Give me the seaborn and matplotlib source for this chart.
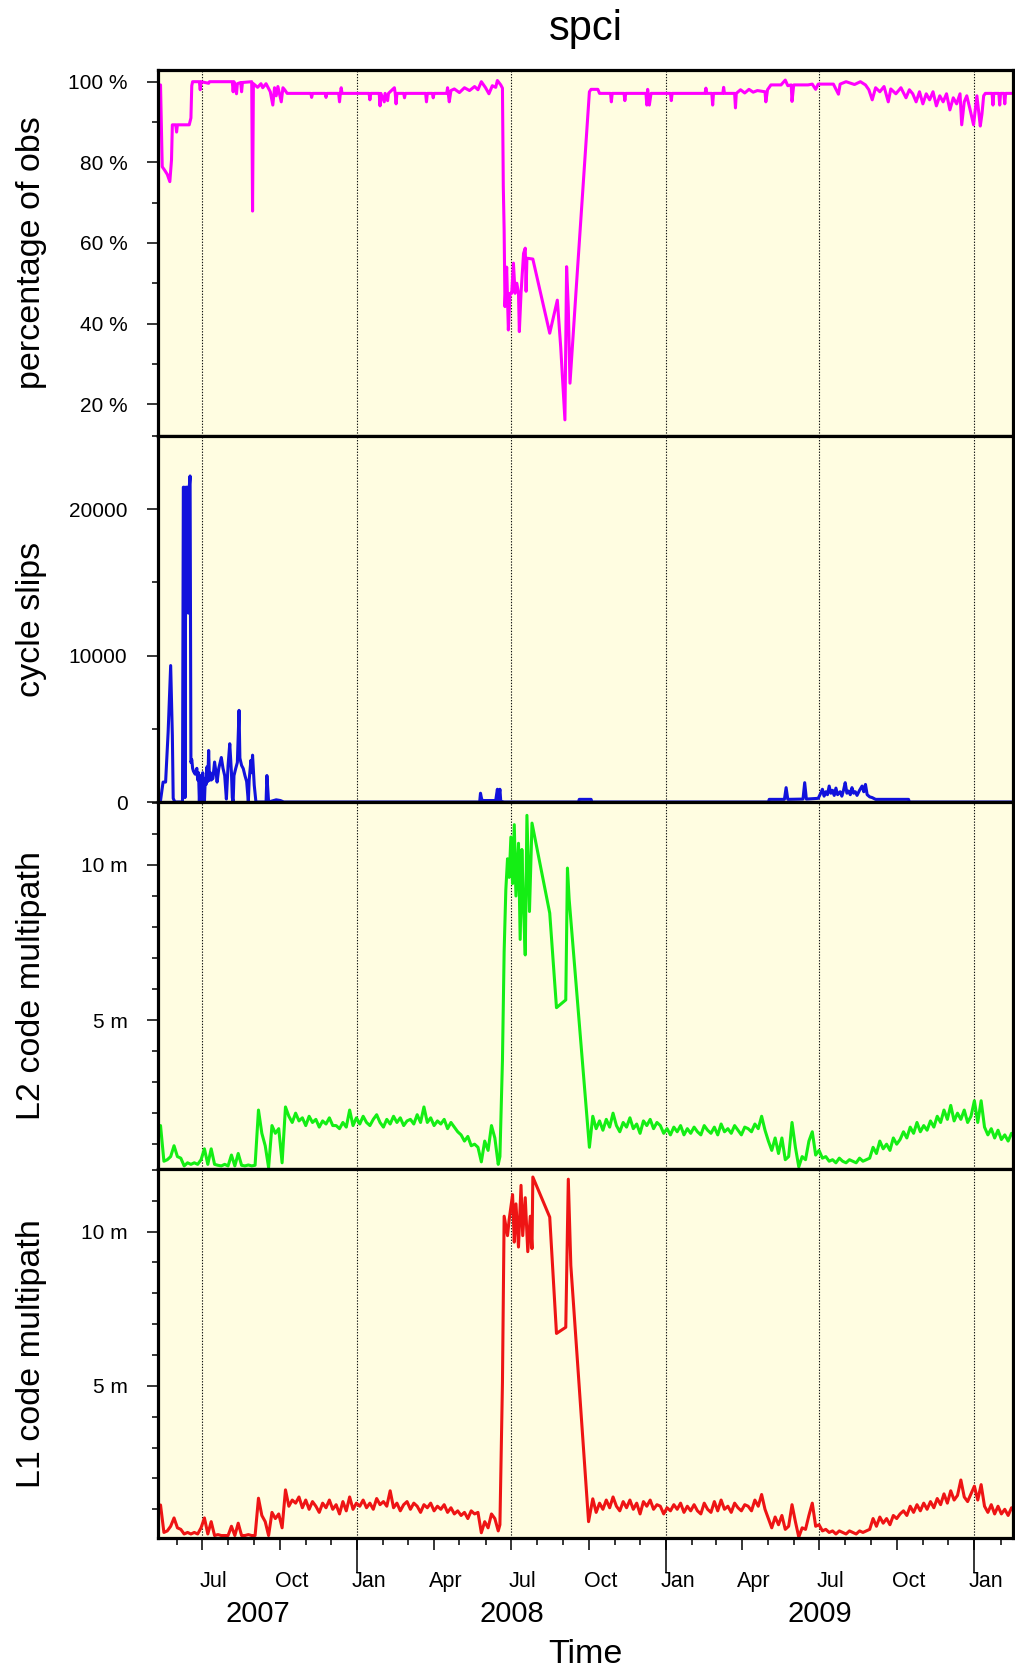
import numpy as np
import pandas as pd
import matplotlib
matplotlib.use("Agg")
import matplotlib.pyplot as plt
import matplotlib.dates as mdates
from matplotlib.ticker import FixedLocator, FuncFormatter
import seaborn as sns

sns.set_style("ticks")
plt.rcParams["font.family"] = ["Liberation Sans", "DejaVu Sans"]
plt.rcParams.update({"text.color": "black", "axes.labelcolor": "black",
                     "xtick.color": "black", "ytick.color": "black"})

# ---------------------------------------------------------------- data
STATION = "spci"
DAY0 = pd.Timestamp("2007-05-10")          # day offsets below count from here
X_START = pd.Timestamp("2007-05-10")
X_END = pd.Timestamp("2010-02-15 18:00")

MONTH_LABELS = ["Jul", "Oct", "Jan", "Apr", "Jul", "Oct",
                "Jan", "Apr", "Jul", "Oct", "Jan"]
YEAR_LABELS = ["2007", "2008", "2009"]

# percentage of observations: (day, %)
pct_points = [
    (3, 99.2), (5, 78.9), (8, 78.0), (11, 77.0), (14, 75.2), (16, 80.6),
    (17, 89.3), (21, 89.3), (22, 87.5), (23, 89.3), (37, 89.3), (39, 91.0),
    (40, 99.0), (41, 100.0), (49, 100.0), (50, 98.0), (51, 100.0),
    (60, 99.6), (61, 100.0), (88, 100.0), (89, 97.5), (90, 100.0),
    (93, 97.0), (94, 99.5), (98, 99.8), (99, 97.5), (100, 99.8),
    (111, 100.0), (112, 67.9), (113, 99.5), (118, 98.6), (122, 99.5),
    (124, 98.5), (128, 99.5), (133, 97.5), (136, 94.2), (138, 98.5),
    (140, 96.5), (142, 98.8), (146, 95.0), (148, 98.5), (150, 98.0),
    (153, 97.1), (181, 97.1), (182, 96.1), (183, 97.1), (198, 97.1),
    (199, 96.1), (200, 97.1), (214, 97.1), (215, 95.0), (216, 97.1),
    (217, 98.5), (218, 97.1), (250, 97.1), (251, 95.5), (252, 97.1),
    (262, 97.1), (263, 94.0), (264, 97.1), (268, 95.0), (269, 97.1),
    (272, 95.3), (273, 97.1), (280, 98.5), (281, 97.1), (282, 94.5),
    (283, 97.1), (291, 97.1), (292, 96.0), (293, 97.1), (317, 97.1),
    (318, 95.0), (319, 97.1), (325, 97.1), (326, 96.0), (327, 97.1),
    (342, 97.1), (343, 98.5), (345, 95.0), (347, 97.8), (351, 98.2),
    (357, 97.3), (363, 98.5), (369, 97.8), (375, 98.8), (379, 98.0),
    (383, 100.0), (388, 98.5), (392, 97.0), (396, 99.0), (400, 98.6),
    (402, 100.3), (406, 99.2), (408, 98.4), (409, 74.0), (410, 63.2),
    (411, 44.2), (413, 54.0), (415, 38.4), (417, 47.5), (419, 47.5),
    (421, 55.0), (423, 47.5), (425, 50.0), (427, 47.5), (428, 38.0),
    (430, 47.5), (433, 57.4), (435, 58.7), (436, 48.0), (437, 56.2),
    (444, 56.0), (464, 37.6), (473, 45.8), (477, 34.2), (482, 16.1),
    (484, 54.1), (486, 44.0), (488, 25.2), (495, 47.5), (511, 97.5),
    (513, 98.1), (521, 98.1), (523, 97.1), (536, 97.1), (537, 95.0),
    (538, 97.1), (552, 97.1), (553, 95.3), (554, 97.1), (578, 97.1),
    (579, 94.2), (580, 98.1), (582, 94.2), (584, 97.1), (607, 97.1),
    (608, 95.3), (609, 97.1), (648, 97.1), (649, 98.4), (650, 97.1),
    (656, 97.1), (657, 94.2), (658, 97.1), (669, 97.1), (670, 98.6),
    (671, 97.1), (683, 97.1), (684, 93.5), (685, 97.1), (690, 98.0),
    (695, 97.2), (700, 98.1), (705, 97.4), (710, 97.8), (719, 97.5),
    (720, 95.0), (722, 98.0), (726, 99.2), (738, 99.2), (743, 100.4),
    (746, 99.0), (750, 99.2), (751, 95.1), (753, 99.2), (770, 99.2),
    (775, 99.4), (779, 98.1), (782, 99.4), (800, 99.4), (806, 96.9),
    (808, 99.4), (815, 100.0), (825, 99.3), (832, 100.0), (838, 99.2),
    (842, 98.0), (846, 95.5), (850, 98.5), (855, 97.5), (860, 98.8),
    (865, 95.0), (868, 98.2), (874, 97.0), (880, 98.5), (886, 96.0),
    (890, 98.0), (894, 97.0), (898, 95.0), (902, 97.5), (906, 94.5),
    (910, 97.0), (914, 95.5), (918, 97.5), (922, 94.0), (926, 96.5),
    (930, 95.0), (934, 97.0), (938, 93.0), (942, 96.0), (946, 94.5),
    (950, 97.0), (952, 89.3), (955, 95.0), (958, 96.5), (962, 93.0),
    (966, 89.3), (970, 96.5), (974, 89.0), (976, 92.0), (978, 96.5),
    (980, 97.1), (988, 97.1), (989, 94.2), (990, 97.1), (996, 97.1),
    (997, 94.2), (998, 97.1), (1002, 97.1), (1003, 94.5), (1004, 97.1),
    (1011, 97.1),
]

# cycle slips per day: (day, count)
slip_points = [
    (3, 100), (6, 1360), (9, 1360), (12, 4770), (15, 9320), (17, 4550),
    (18, 250), (20, 0), (29, 0), (30, 21500), (31, 21500), (32, 300),
    (33, 21500), (34, 21500), (35, 21500), (36, 12900), (37, 21500),
    (38, 22270), (39, 2700), (40, 2900), (41, 2300), (42, 2100),
    (44, 1900), (46, 2300), (47, 1500), (48, 2000), (49, 0), (50, 1800),
    (51, 0), (52, 1600), (53, 2000), (54, 1400), (55, 0), (56, 1600),
    (57, 1200), (58, 2400), (59, 1400), (60, 3520), (61, 1500),
    (62, 2000), (63, 1500), (65, 1600), (67, 2730), (69, 1900),
    (70, 1360), (72, 2300), (75, 3040), (77, 2300), (79, 1800),
    (81, 200), (83, 2500), (85, 3980), (87, 2000), (88, 300), (89, 0),
    (90, 1800), (92, 2280), (94, 2700), (96, 6260), (97, 3000),
    (99, 2500), (101, 2280), (103, 1800), (105, 1400), (107, 0),
    (108, 1500), (110, 2840), (111, 2000), (112, 3200), (114, 1150),
    (116, 0), (128, 0), (129, 1810), (131, 0), (140, 150), (145, 100),
    (149, 0), (381, 0), (382, 600), (383, 300), (384, 100), (400, 100),
    (402, 870), (403, 100), (405, 870), (406, 50), (410, 0), (498, 0),
    (499, 180), (513, 180), (514, 0), (723, 0), (724, 180), (742, 180),
    (744, 980), (746, 180), (764, 200), (766, 1320), (768, 200),
    (782, 250), (785, 600), (787, 870), (789, 400), (791, 700),
    (793, 500), (795, 1090), (797, 600), (799, 800), (801, 450),
    (803, 950), (805, 500), (808, 700), (810, 400), (812, 800),
    (814, 1320), (816, 600), (818, 750), (820, 500), (822, 980),
    (824, 600), (826, 700), (828, 450), (831, 800), (834, 1090),
    (836, 700), (838, 1200), (840, 500), (843, 350), (846, 300),
    (850, 180), (889, 180), (890, 0), (1011, 0),
]

# code multipath (m): 4-day samples before and after the 2008 event,
# individual days during it
MP_STEP = 4
MP_EARLY_START = 3
MP_LATE_START = 515

l2_early = [
    1.6, 0.45, 0.5, 0.6, 0.95, 0.6, 0.55, 0.3, 0.4, 0.35,
    0.4, 0.35, 0.5, 0.85, 0.35, 0.85, 0.35, 0.32, 0.3, 0.35,
    0.3, 0.65, 0.3, 0.7, 0.32, 0.3, 0.33, 0.3, 0.32, 2.1,
    1.35, 0.95, 0.25, 1.6, 1.35, 1.5, 0.4, 2.2, 1.9, 1.7,
    2.0, 1.75, 1.85, 1.6, 1.9, 1.7, 1.8, 1.55, 1.75, 1.65,
    1.85, 1.6, 1.6, 1.5, 1.7, 1.55, 2.1, 1.6, 1.85, 1.65,
    1.9, 1.7, 1.6, 1.8, 1.95, 1.7, 1.55, 1.8, 1.65, 1.9,
    1.7, 1.85, 1.6, 1.75, 1.8, 1.65, 1.95, 1.7, 2.2, 1.7,
    1.85, 1.6, 1.75, 1.65, 1.8, 1.5, 1.7, 1.55, 1.4, 1.3,
    1.1, 1.25, 0.95, 1.0, 0.9, 0.43, 1.1, 0.8, 1.6, 1.2,
    0.35,
]
l2_event = [
    (405, 0.6), (408, 3.7), (410, 7.2), (412, 9.2), (414, 10.2),
    (416, 9.6), (418, 10.9), (420, 9.4), (422, 11.3), (424, 9.0),
    (427, 10.7), (429, 7.6), (431, 10.5), (433, 8.6), (435, 7.1),
    (437, 11.6), (440, 8.5), (443, 11.35), (464, 8.45), (472, 5.4),
    (483, 5.65), (485, 9.9), (487, 8.9), (511, 0.9),
]
l2_late = [
    1.9, 1.5, 1.75, 1.45, 1.8, 1.55, 2.0, 1.6, 1.4, 1.7,
    1.55, 1.85, 1.5, 1.65, 1.35, 1.75, 1.6, 1.8, 1.5, 1.7,
    1.6, 1.35, 1.5, 1.3, 1.55, 1.4, 1.6, 1.3, 1.5, 1.35,
    1.55, 1.4, 1.3, 1.6, 1.45, 1.35, 1.55, 1.3, 1.65, 1.4,
    1.5, 1.35, 1.6, 1.45, 1.3, 1.55, 1.5, 1.4, 1.65, 1.5,
    1.9, 1.45, 1.1, 0.8, 1.2, 0.7, 1.2, 0.5, 0.6, 1.7,
    0.9, 0.27, 0.6, 0.5, 1.1, 1.4, 0.65, 0.8, 0.55, 0.6,
    0.45, 0.5, 0.4, 0.55, 0.45, 0.4, 0.5, 0.45, 0.4, 0.55,
    0.45, 0.5, 0.55, 0.9, 0.7, 1.1, 0.85, 1.0, 0.8, 1.2,
    1.0, 1.15, 1.4, 1.2, 1.55, 1.35, 1.7, 1.4, 1.6, 1.45,
    1.75, 1.55, 1.9, 1.7, 2.1, 1.8, 2.25, 1.75, 2.0, 1.8,
    2.1, 1.7, 1.9, 2.4, 1.7, 2.4, 1.55, 1.3, 1.5, 1.2,
    1.45, 1.15, 1.3, 1.1, 1.35,
]

l1_early = [
    1.14, 0.25, 0.3, 0.45, 0.72, 0.4, 0.35, 0.2, 0.25, 0.2,
    0.25, 0.2, 0.4, 0.72, 0.2, 0.6, 0.15, 0.18, 0.15, 0.15,
    0.15, 0.45, 0.15, 0.55, 0.15, 0.15, 0.18, 0.15, 0.15, 1.36,
    0.8, 0.6, 0.15, 0.9, 0.7, 0.85, 0.4, 1.63, 1.1, 1.3,
    1.2, 1.4, 1.05, 1.3, 1.0, 1.25, 1.1, 0.9, 1.2, 1.05,
    1.3, 1.0, 1.15, 0.85, 1.25, 0.95, 1.4, 1.0, 1.2, 1.1,
    1.3, 1.05, 1.2, 1.0, 1.35, 1.15, 1.25, 1.1, 1.6, 1.05,
    1.2, 0.95, 1.15, 1.25, 1.0, 1.2, 1.1, 0.9, 1.15, 1.05,
    1.2, 0.95, 1.1, 1.0, 1.15, 0.9, 1.05, 0.85, 0.95, 0.8,
    0.9, 0.7, 0.95, 0.85, 0.9, 0.24, 0.6, 0.4, 0.85, 0.7,
    0.3,
]
l1_event = [
    (405, 0.5), (408, 5.1), (410, 10.5), (414, 9.87), (416, 10.4),
    (420, 11.2), (422, 9.66), (424, 10.9), (427, 9.5), (430, 11.5),
    (432, 9.87), (435, 11.1), (438, 9.35), (441, 10.5), (443, 9.45),
    (444, 11.77), (464, 10.47), (472, 6.7), (483, 6.9), (486, 11.7),
    (489, 8.9), (510, 0.6),
]
l1_late = [
    1.34, 0.9, 1.2, 1.0, 1.3, 1.05, 1.4, 1.1, 0.95, 1.25,
    1.05, 1.3, 1.0, 1.2, 0.85, 1.25, 1.1, 1.3, 1.0, 1.15,
    1.1, 0.85, 1.05, 0.95, 1.15, 1.0, 1.2, 0.9, 1.1, 0.95,
    1.15, 0.95, 0.85, 1.2, 1.0, 0.9, 1.25, 0.95, 1.3, 1.0,
    1.1, 0.9, 1.2, 1.05, 0.95, 1.15, 1.1, 0.95, 1.3, 1.1,
    1.48, 1.0, 0.7, 0.4, 0.75, 0.5, 0.8, 0.35, 0.45, 1.15,
    0.6, 0.1, 0.4, 0.35, 0.8, 1.2, 0.45, 0.5, 0.3, 0.35,
    0.25, 0.3, 0.2, 0.3, 0.25, 0.2, 0.3, 0.25, 0.2, 0.3,
    0.25, 0.3, 0.35, 0.7, 0.45, 0.75, 0.55, 0.7, 0.5, 0.8,
    0.7, 0.85, 0.95, 0.8, 1.1, 0.9, 1.15, 0.95, 1.2, 1.0,
    1.25, 1.05, 1.35, 1.15, 1.5, 1.2, 1.6, 1.3, 1.45, 1.95,
    1.4, 1.25, 1.5, 1.75, 1.3, 1.8, 1.1, 0.9, 1.15, 0.85,
    1.1, 0.85, 1.0, 0.8, 1.05,
]


# ---------------------------------------------------------------- helpers
def frame_from_points(points):
    days, vals = zip(*points)
    return pd.DataFrame({"time": DAY0 + pd.to_timedelta(np.array(days), unit="D"),
                         "value": np.array(vals, dtype=float)})


def multipath_frame(early, event, late):
    d_early = MP_EARLY_START + MP_STEP * np.arange(len(early))
    d_late = MP_LATE_START + MP_STEP * np.arange(len(late))
    ev_days, ev_vals = zip(*event)
    days = np.concatenate([d_early, np.array(ev_days), d_late])
    vals = np.concatenate([early, ev_vals, late]).astype(float)
    return pd.DataFrame({"time": DAY0 + pd.to_timedelta(days, unit="D"),
                         "value": vals})


panels = [
    dict(df=frame_from_points(pct_points), color="#FF00FF",
         label="percentage of obs", ylim=(12.1, 102.9),
         major=[20, 40, 60, 80, 100], minor=[30, 50, 70, 90],
         fmt=lambda v, p: f"{v:.0f} %"),
    dict(df=frame_from_points(slip_points), color="#1212DC",
         label="cycle slips", ylim=(0, 25000),
         major=[0, 10000, 20000], minor=[5000, 15000, 25000],
         fmt=lambda v, p: f"{v:.0f}"),
    dict(df=multipath_frame(l2_early, l2_event, l2_late), color="#14EE14",
         label="L2 code multipath", ylim=(0.2, 12.03),
         major=[5, 10], minor=[1, 2, 3, 4, 6, 7, 8, 9, 11, 12],
         fmt=lambda v, p: f"{v:.0f} m"),
    dict(df=multipath_frame(l1_early, l1_event, l1_late), color="#EE1414",
         label="L1 code multipath", ylim=(0.07, 12.03),
         major=[5, 10], minor=[1, 2, 3, 4, 6, 7, 8, 9, 11, 12],
         fmt=lambda v, p: f"{v:.0f} m"),
]

# ---------------------------------------------------------------- figure
W, H = 1015, 1673
fig = plt.figure(figsize=(W / 100, H / 100), dpi=100)
left_px, right_px = 158, 1013
edges_px = [70, 436, 802, 1169, 1538]
bg = "#FFFDE1"

grid_dates = [pd.Timestamp(f"{y}-{m:02d}-01") for y in (2007, 2008, 2009, 2010)
              for m in (1, 7)]
grid_dates = [d for d in grid_dates if X_START < d < X_END]

axes = []
for i, spec in enumerate(panels):
    top, bot = edges_px[i], edges_px[i + 1]
    rect = [left_px / W, 1 - bot / H, (right_px - left_px) / W, (bot - top) / H]
    ax = fig.add_axes(rect, sharex=axes[0] if axes else None)
    axes.append(ax)
    ax.set_facecolor(bg)

    sns.lineplot(data=spec["df"], x="time", y="value", ax=ax,
                 color=spec["color"], linewidth=2.2, errorbar=None,
                 estimator=None)

    for d in grid_dates:
        ax.axvline(d, color="#111111", linewidth=0.8,
                   linestyle=(0, (1.2, 1.4)), zorder=1)

    ax.set_xlim(X_START, X_END)
    ax.set_ylim(*spec["ylim"])
    ax.yaxis.set_major_locator(FixedLocator(spec["major"]))
    ax.yaxis.set_minor_locator(FixedLocator(spec["minor"]))
    ax.yaxis.set_major_formatter(FuncFormatter(spec["fmt"]))
    ax.tick_params(axis="y", which="major", length=8, width=1.1,
                   pad=14, labelsize=15, direction="out")
    ax.tick_params(axis="y", which="minor", length=4.3, width=1.1,
                   direction="out")
    ax.tick_params(axis="y", right=False, which="both")

    ax.set_ylabel(spec["label"], fontsize=24.5)
    ax.yaxis.set_label_coords(-0.130, 0.5)
    ax.set_xlabel("")

    for s in ax.spines.values():
        s.set_linewidth(2.3)
        s.set_color("black")
        s.set_zorder(5)

    if i < 3:
        ax.tick_params(axis="x", which="both", bottom=False, top=False,
                       labelbottom=False)

# bottom time axis: monthly minor, quarterly major, taller January ticks
axb = axes[-1]
axb.xaxis.set_major_locator(mdates.MonthLocator(bymonth=[1, 4, 7, 10]))
axb.xaxis.set_minor_locator(mdates.MonthLocator())
axb.tick_params(axis="x", which="major", length=8.6, width=1.1,
                direction="out", labelbottom=False, top=False)
axb.tick_params(axis="x", which="minor", length=5, width=1.1,
                direction="out", top=False)

jan_dates = [pd.Timestamp(f"{y}-01-01") for y in (2008, 2009, 2010)]
jan_ax = axb.secondary_xaxis("bottom")
jan_ax.set_xticks(mdates.date2num(jan_dates))
jan_ax.tick_params(length=25, width=1.1, labelbottom=False)
jan_ax.spines["bottom"].set_visible(False)

quarter_starts = pd.date_range("2007-07-01", "2010-01-01", freq="QS-JAN")
label_pos = mdates.date2num(quarter_starts + pd.Timedelta(days=14))
month_ax = axb.secondary_xaxis("bottom")
month_ax.set_xticks(label_pos, labels=MONTH_LABELS)
month_ax.tick_params(length=0, pad=24, labelsize=15.5)
month_ax.spines["bottom"].set_visible(False)

year_bounds = [(max(X_START, pd.Timestamp(f"{y}-01-01")),
                min(X_END, pd.Timestamp(f"{int(y) + 1}-01-01"))) for y in YEAR_LABELS]
year_pos = [mdates.date2num(a + (b - a) / 2) for a, b in year_bounds]
year_ax = axb.secondary_xaxis("bottom")
year_ax.set_xticks(year_pos, labels=YEAR_LABELS)
year_ax.tick_params(length=0, pad=45, labelsize=21)
year_ax.spines["bottom"].set_visible(False)

xc = (left_px + right_px) / 2 / W
fig.text(xc, 1 - 40 / H, STATION, ha="center", va="baseline", fontsize=30)
fig.text(xc, 1 - 1663 / H, "Time", ha="center", va="baseline", fontsize=24.5)

fig.savefig("out.png", dpi=100, facecolor="white")
